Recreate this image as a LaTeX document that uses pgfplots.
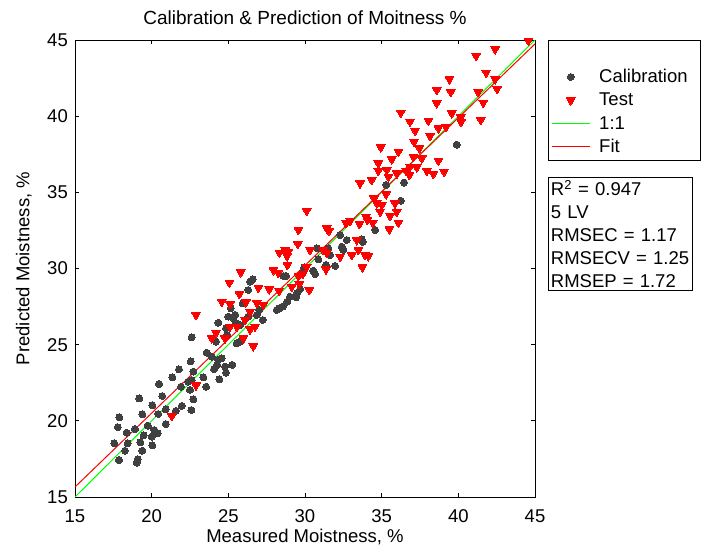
\documentclass[border=0pt]{standalone}
\usepackage{fontspec}
\setmainfont{Liberation Sans}
\usepackage{pgfplots}
\pgfplotsset{compat=1.18}
\definecolor{calgray}{RGB}{64,64,64}
\definecolor{lgreen}{RGB}{0,255,0}
\begin{document}
\fontsize{18.5bp}{23bp}\selectfont
\begin{tikzpicture}
\path[use as bounding box] (-75bp,-51bp) rectangle (632bp,497bp);
\begin{axis}[
 at={(0,0)}, anchor=south west,
 scale only axis, width=460bp, height=457bp,
 xmin=15, xmax=45, ymin=15, ymax=45,
 xtick={15,20,...,45}, ytick={15,20,...,45},
 tick align=inside, major tick length=4.5bp,
 axis line style={line width=0.8bp},
 every tick/.style={line width=0.8bp, black},
 /pgf/number format/assume math mode=true,
 tick label style={font=\fontsize{18.5bp}{22bp}\selectfont},
 xticklabel style={inner sep=0pt, yshift=-12.4bp},
 yticklabel style={inner sep=0pt, xshift=-7bp},
 title={Calibration \& Prediction of Moitness \%},
 title style={at={(axis description cs:0.5,1.035)}, anchor=center, inner sep=0pt, font=\fontsize{19bp}{22bp}\selectfont},
 xlabel={Measured Moistness, \%},
 xlabel style={at={(axis description cs:0.5,-0.0875)}, anchor=center, inner sep=0pt, font=\fontsize{18.5bp}{22bp}\selectfont},
 ylabel={Predicted Moistness, \%},
 ylabel style={at={(axis description cs:-0.111,0.5)}, anchor=center, inner sep=0pt, font=\fontsize{18.5bp}{22bp}\selectfont},
 legend cell align=left,
 legend style={at={(1.0283,1)}, anchor=north west,
   inner xsep=3bp, inner ysep=6bp, column sep=9bp, row sep=8.3bp,
   font=\fontsize{18.5bp}{22bp}\selectfont,
   nodes={inner sep=0pt, text height=13bp, text depth=2bp}},
 legend image code/.code={\draw[mark repeat=2,mark phase=2,#1] plot coordinates {(0bp,0bp) (19bp,0bp) (38bp,0bp)};},
]
\addlegendimage{empty legend}
\addlegendentry{}
\addplot[only marks, mark=*, mark size=3.5bp, color=calgray, mark options={fill=calgray, draw=calgray, line width=0pt}] table {
17.56 18.53
17.89 20.23
17.79 19.58
17.87 17.43
18.26 18.04
18.37 19.22
18.44 18.53
18.91 19.46
19.09 17.48
19.02 17.25
19.19 21.47
19.26 18.59
19.39 20.43
19.39 18.04
19.48 19.05
19.74 19.68
20.00 18.96
20.04 21.02
20.04 18.39
20.17 19.40
20.39 19.18
20.43 20.45
20.48 22.42
20.69 21.63
20.92 20.76
20.92 19.79
21.35 22.86
21.57 20.65
21.78 23.38
21.91 22.24
21.96 20.98
22.39 22.57
22.50 22.03
22.55 23.91
22.59 20.71
22.72 21.41
22.72 23.23
22.61 25.49
22.61 22.68
23.37 22.86
23.55 22.24
23.59 24.47
23.92 24.21
24.07 23.40
24.35 24.00
24.57 24.11
24.28 23.67
24.41 22.73
24.78 23.56
25.26 23.67
24.85 23.16
24.20 25.20
24.35 26.44
25.00 26.84
25.31 26.75
24.85 26.08
25.76 26.29
24.93 25.64
25.55 25.09
25.76 25.20
25.16 27.39
25.45 26.95
25.50 26.41
25.94 27.72
26.30 28.59
26.42 29.14
26.59 29.29
26.30 26.84
26.85 26.95
27.02 27.28
27.24 26.62
28.33 27.39
28.16 27.28
28.55 27.50
28.85 27.82
29.02 28.15
29.42 28.11
29.50 28.41
29.68 28.64
28.59 29.51
28.76 29.51
29.79 29.69
29.94 30.08
30.54 29.86
30.66 29.64
30.77 31.33
30.87 30.61
31.37 30.23
31.52 31.33
31.63 30.89
31.96 30.17
32.29 32.20
32.40 31.43
32.50 31.22
32.72 31.87
33.70 31.92
33.77 31.74
34.57 32.53
35.29 35.49
36.46 35.64
36.25 34.45
39.90 38.13
};
\addlegendentry{Calibration\hspace*{10bp}}
\addplot[only marks, mark=triangle*, mark size=5bp, color=red, mark options={rotate=180, fill=red, draw=red, line width=0pt}] table {
21.31 20.32
22.89 22.33
22.89 26.95
24.20 25.79
23.92 25.42
24.78 25.42
25.11 26.18
25.55 26.18
25.98 25.42
26.09 26.62
24.57 27.82
25.11 27.67
25.72 28.33
26.15 27.80
25.07 29.07
25.81 29.75
26.42 27.17
26.74 26.18
26.63 24.91
26.85 27.76
26.96 28.74
27.67 28.64
28.31 28.55
29.14 28.81
29.63 28.99
30.28 28.59
27.94 29.90
28.26 29.73
29.85 29.64
28.85 30.23
30.11 30.12
28.33 31.04
28.91 31.11
29.53 31.61
30.33 31.22
31.18 31.22
31.42 31.02
31.37 29.95
32.29 30.78
33.05 30.89
33.48 31.22
33.92 30.89
33.74 30.08
29.57 32.53
30.11 33.78
31.42 32.64
31.57 32.47
28.70 31.22
28.83 30.82
29.57 29.51
33.38 31.87
34.13 30.82
32.94 33.14
32.68 32.99
33.55 32.93
33.98 33.40
34.07 33.19
34.42 33.01
35.50 32.58
35.55 33.45
36.09 33.01
34.90 33.73
35.99 33.73
34.50 34.61
34.68 34.28
35.01 34.17
35.87 34.28
35.29 34.89
33.59 35.60
34.35 35.81
35.44 36.03
34.78 36.91
34.78 36.42
35.33 36.47
35.99 36.25
36.59 36.42
36.85 36.69
36.09 37.67
37.07 37.34
34.94 37.96
35.66 37.17
37.46 37.90
37.29 36.65
37.94 36.42
38.37 36.21
39.07 36.36
38.70 37.08
36.25 40.23
36.85 39.64
37.18 39.05
37.11 38.33
38.16 38.70
38.05 39.71
38.70 39.21
39.20 39.31
38.59 40.85
38.59 41.72
39.42 42.43
39.51 41.59
39.57 40.19
40.16 39.93
40.18 39.62
41.46 39.75
41.63 40.89
41.29 41.59
42.53 41.79
42.40 42.43
41.81 42.86
41.16 43.96
42.40 44.40
44.57 44.96
37.62 37.24
36.81 36.14
26.42 26.01
27.28 27.61
};
\addlegendentry{Test}
\addplot[color=lgreen, line width=1bp] coordinates {(15,15) (45,45)};
\addlegendentry{1:1}
\addplot[color=red, line width=1bp] coordinates {(15,15.66) (45,44.74)};
\addlegendentry{Fit}
\end{axis}
\node[draw=black, line width=0.8bp, anchor=north west, align=left, text width=139bp, inner xsep=2.5bp, inner ysep=3bp,
  font=\fontsize{18.5bp}{23bp}\selectfont] at (473bp,320bp)
  {R\textsuperscript{2} = 0.947\\5 LV\\RMSEC = 1.17\\RMSECV = 1.25\\RMSEP = 1.72};
\end{tikzpicture}
\end{document}
